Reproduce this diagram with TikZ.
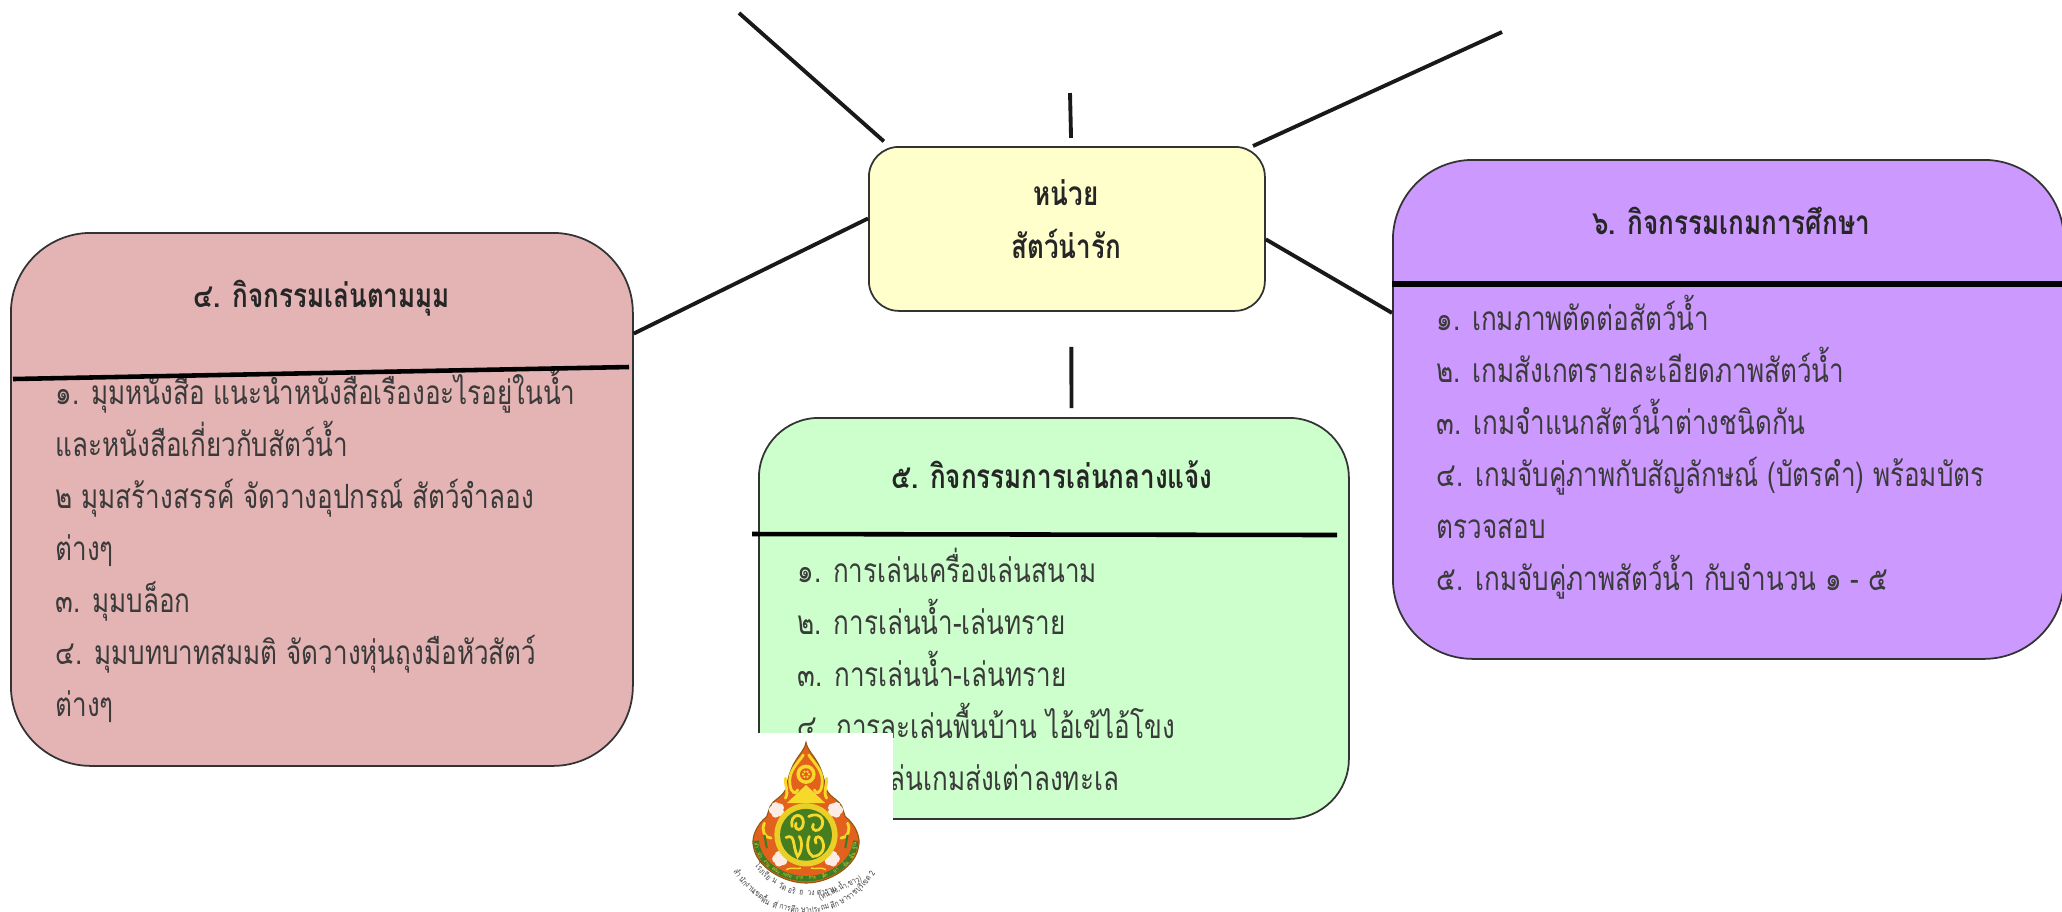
\documentclass[tikz,border=0pt]{standalone}
\usepackage{fontspec}
\usetikzlibrary{positioning}
\newfontfamily\thaifont[Script=Thai,FakeStretch=0.78]{Loma}
\definecolor{pinkbox}{HTML}{E4B4B4}
\definecolor{greenbox}{HTML}{CCFFCC}
\definecolor{purplebox}{HTML}{CC99FF}
\definecolor{unitbox}{HTML}{FFFFCC}
\definecolor{bodytext}{HTML}{3A3A3A}
\definecolor{crestorange}{HTML}{E2611C}
\definecolor{crestyellow}{HTML}{F6D92A}
\definecolor{crestgreen}{HTML}{3F7D24}
\definecolor{crestbrown}{HTML}{8A5A12}
\definecolor{crestlotus}{HTML}{FBEDE6}
\tikzset{
	groupbox/.style={draw=black!80, line width=0.5pt, rounded corners=0.8cm, anchor=north west},
	heading/.style={font=\thaifont\bfseries\fontsize{9.5}{14}\selectfont, text=black!85},
	bodylist/.style={font=\thaifont\fontsize{9.5}{14.8}\selectfont, text=bodytext, align=left, anchor=north west, inner sep=0pt},
	link/.style={line width=1.1pt, black!90},
	rule/.style={line width=1.3pt},
	curlstroke/.style={crestyellow, line width=0.8pt, line cap=round},
	bandword/.style={font=\thaifont\fontsize{1.5}{2}\selectfont, text=crestyellow, inner sep=0pt},
	crestword/.style={font=\thaifont\fontsize{2.4}{3}\selectfont, text=black!75, inner sep=0pt}
}
\begin{document}
\begin{tikzpicture}
	\useasboundingbox (0,0) rectangle (20.62,-9.11);

	% centre
	\node[groupbox, fill=unitbox, rounded corners=0.3cm, minimum width=3.96cm, minimum height=1.64cm] (unit) at (8.68,-1.46) {};
	\node[heading] (unitone) at (10.66,-1.93) {หน่วย};
	\node[heading] (unittwo) at (10.66,-2.44) {สัตว์น่ารัก};

	% boxes
	\node[groupbox, fill=pinkbox, minimum width=6.22cm, minimum height=5.33cm] (corner) at (0.10,-2.32) {};
	\node[groupbox, fill=greenbox, rounded corners=0.6cm, minimum width=5.9cm, minimum height=4.01cm] (outdoor) at (7.58,-4.17) {};
	\node[groupbox, fill=purplebox, minimum width=6.71cm, minimum height=4.99cm] (game) at (13.92,-1.59) {};

	% headings
	\node[heading] (cornerhead) at (3.22,-2.98) {๔. กิจกรรมเล่นตามมุม};
	\node[heading] (outdoorhead) at (10.52,-4.75) {๕. กิจกรรมการเล่นกลางแจ้ง};
	\node[heading] (gamehead) at (17.31,-2.21) {๖. กิจกรรมเกมการศึกษา};

	% lists
	\node[bodylist] (cornerlist) at (0.55,-3.68) {๑. มุมหนังสือ แนะนำหนังสือเรื่องอะไรอยู่ในน้ำ\\และหนังสือเกี่ยวกับสัตว์น้ำ\\๒ มุมสร้างสรรค์ จัดวางอุปกรณ์ สัตว์จำลอง\\ต่างๆ\\๓. มุมบล็อก\\๔. มุมบทบาทสมมติ จัดวางหุ่นถุงมือหัวสัตว์\\ต่างๆ};
	\node[bodylist] (outdoorlist) at (7.97,-5.47) {๑. การเล่นเครื่องเล่นสนาม\\๒. การเล่นน้ำ-เล่นทราย\\๓. การเล่นน้ำ-เล่นทราย\\๔. การละเล่นพื้นบ้าน ไอ้เข้ไอ้โขง\\๕. การเล่นเกมส่งเต่าลงทะเล};
	\node[bodylist] (gamelist) at (14.36,-2.94) {๑. เกมภาพตัดต่อสัตว์น้ำ\\๒. เกมสังเกตรายละเอียดภาพสัตว์น้ำ\\๓. เกมจำแนกสัตว์น้ำต่างชนิดกัน\\๔. เกมจับคู่ภาพกับสัญลักษณ์ (บัตรคำ) พร้อมบัตร\\ตรวจสอบ\\๕. เกมจับคู่ภาพสัตว์น้ำ กับจำนวน ๑ - ๕};

	% rules
	\coordinate (cornerruleL) at (0.13,-3.79);
	\coordinate (cornerruleR) at (6.29,-3.67);
	\coordinate (outdoorruleL) at (7.52,-5.34);
	\coordinate (outdoorruleR) at (13.37,-5.35);
	\draw[rule] (cornerruleL) -- (cornerruleR);
	\draw[rule] (outdoorruleL) -- (outdoorruleR);
	\draw[rule, line width=1.6pt] (game.west |- 0,-2.84) -- (game.east |- 0,-2.84);

	% links
	\coordinate (farleft) at (7.39,-0.13);
	\coordinate (fartop) at (10.70,-0.93);
	\coordinate (farright) at (15.02,-0.32);
	\draw[link, shorten <=2pt] (unit.155.2) -- (farleft);
	\draw[link, shorten <=2.3pt] (unit.87) -- (fartop);
	\draw[link] (unit.24.1) -- (farright);
	\draw[link] (unit.177) -- (corner.28);
	\draw[link] (unit.-3) -- (game.164);
	\draw[link, shorten <=10pt, shorten >=2.5pt] (unit.273) -- (outdoor.85);

	% crest
	\fill[white] (7.30,-7.33) rectangle (8.93,-9.11);
	\begin{scope}[shift={(8.06,-7.35)}, x=0.00333cm, y=-0.00333cm]
		\path[fill=crestorange, draw=crestbrown, line width=0.3pt] (0,22) .. controls (-5,45) and (-18,55) .. (-30,75) .. controls (-50,105) and (-55,140) .. (-62,165) .. controls (-75,190) and (-100,195) .. (-108,215) -- (-118,245) .. controls (-150,270) and (-165,310) .. (-158,335) .. controls (-150,395) and (-70,445) .. (0,445) .. controls (70,445) and (150,395) .. (158,335) .. controls (165,310) and (150,270) .. (118,245) -- (108,215) .. controls (100,195) and (75,190) .. (62,165) .. controls (55,140) and (50,105) .. (30,75) .. controls (18,55) and (5,45) .. (0,22) -- cycle;
		\draw[crestgreen, line width=1.5pt] (-150,318) .. controls (-142,392) and (-65,432) .. (0,432) .. controls (65,432) and (142,392) .. (150,318);
		% flame
		\foreach \s in {1,-1}{
			\begin{scope}[xscale=\s]
				\draw[curlstroke] (8,60) .. controls (25,85) and (55,110) .. (48,150) .. controls (45,175) and (30,180) .. (25,165);
				\draw[curlstroke] (62,190) .. controls (50,170) and (65,150) .. (62,130);
				\foreach \a in {0,72,...,288}{
					\fill[crestlotus] (88,225) ++(\a:11) circle (13);
					\fill[crestlotus] (78,372) ++(\a:11) circle (13);
				}
				\draw[curlstroke] (125,265) .. controls (135,285) and (125,310) .. (105,310);
				\draw[crestgreen, line width=0.6pt] (118,340) -- (125,300);
				\draw[crestyellow, line width=0.4pt] (60,405) .. controls (45,395) and (30,405) .. (15,400);
			\end{scope}
		}
		\fill[crestyellow] (0,150) -- (-58,205) -- (58,205) -- cycle;
		\fill[crestyellow] (0,118) circle (29);
		\fill[crestorange] (0,118) circle (18);
		\foreach \a in {0,60,...,300}{
			\fill[crestyellow] (\a:9) ++(0,118) circle (4);
		}
		% medallion
		\fill[crestyellow!90!olive] (0,300) circle (95);
		\fill[crestgreen!90!olive] (0,300) circle (78);
		\draw[curlstroke] (-42,275) .. controls (-50,235) and (-8,232) .. (-8,262) .. controls (-8,290) and (-38,292) .. (-30,265);
		\draw[curlstroke] (8,245) .. controls (50,225) and (62,270) .. (38,285) .. controls (25,292) and (15,280) .. (22,268);
		\draw[curlstroke] (-60,308) .. controls (-30,295) and (-42,335) .. (-25,365) .. controls (-12,350) and (-10,320) .. (-20,305);
		\draw[curlstroke] (10,305) .. controls (0,330) and (5,355) .. (20,365) .. controls (50,365) and (62,335) .. (45,310) .. controls (35,300) and (22,310) .. (30,325);
		% ring words
		\foreach \t [count=\i] in {สำ,นัก,งาน,คณะ,กรรม,การ,การ,ศึก,ษา,ขั้น,พื้น,ฐาน}{
			\pgfmathsetmacro{\a}{172-(\i-1)*164/11}
			\node[bandword, rotate={90-\a}] (bandpart\i) at ({149*cos(\a)},{318+113*sin(\a)}) {\t};
		}
		% curved lines
		\foreach \t [count=\i] in {โรง,เรีย,น,วัด,อริ,ย,วง,ศา,ราม,(หน,อง,น้ำ,ขาว)}{
			\pgfmathsetmacro{\a}{143-(\i-1)*104/12}
			\node[crestword, rotate={90-\a}] (lineone\i) at ({19+195*cos(\a)},{281+195*sin(\a)}) {\t};
		}
		\foreach \t [count=\i] in {สำ,นัก,งาน,เขต,พื้น,ที่,การ,ศึก,ษา,ประ,ถม,ศึก,ษา,ราช,บุรี,เขต,2}{
			\pgfmathsetmacro{\a}{150-(\i-1)*120/16}
			\node[crestword, rotate={90-\a}] (linetwo\i) at ({-3+232*cos(\a)},{304+222*sin(\a)}) {\t};
		}
	\end{scope}
\end{tikzpicture}
\end{document}
